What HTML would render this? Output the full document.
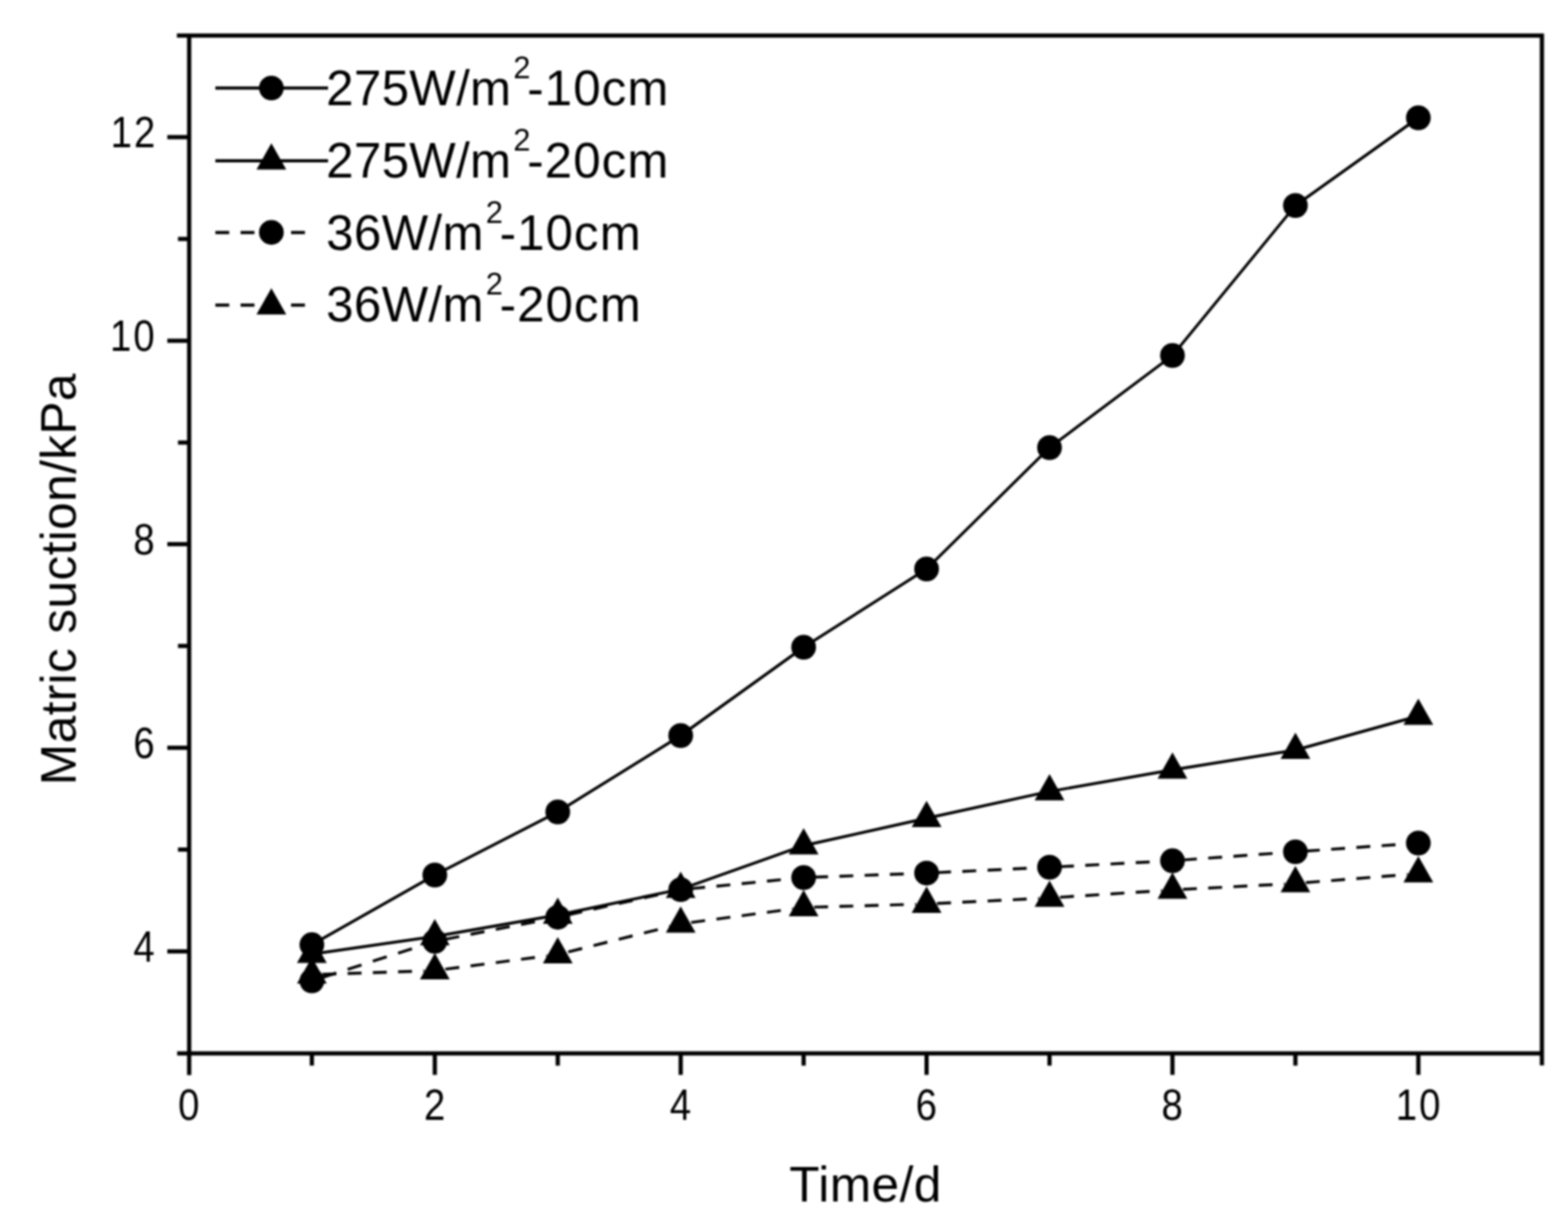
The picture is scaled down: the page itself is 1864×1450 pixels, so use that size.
<!DOCTYPE html>
<html lang="en"><head><meta charset="utf-8"><title>Matric suction vs time</title>
<style>html,body{margin:0;padding:0;background:#fff}body{width:1864px;height:1450px;overflow:hidden}svg{display:block;filter:blur(0.8px)}</style>
</head><body>
<svg width="1864" height="1450" viewBox="0 0 1864 1450">
<rect width="1864" height="1450" fill="#fff"/>
<g id="axes" stroke="#000" fill="none" stroke-linecap="butt">
<path d="M210.3 42.2H1835.5M210.6 1252.1H1835.5M224.9 39.7V1277.7M1833.0 39.7V1266.3" stroke-width="5.0"/>
<path d="M370.75 1252.1V1266.6M516.90 1252.1V1277.6M663.05 1252.1V1266.6M809.20 1252.1V1277.6M955.35 1252.1V1266.6M1101.50 1252.1V1277.6M1247.65 1252.1V1266.6M1393.80 1252.1V1277.6M1539.95 1252.1V1266.6M1686.10 1252.1V1277.6M224.9 1130.65H198.9M224.9 1009.70H211.6M224.9 888.75H198.9M224.9 767.80H211.6M224.9 646.85H198.9M224.9 525.90H211.6M224.9 404.95H198.9M224.9 284.00H211.6M224.9 163.05H198.9" stroke-width="5.0"/>
</g>
<g id="ticklabels" font-family="&quot;Liberation Sans&quot;, sans-serif" font-size="51.5" fill="#000">
<text transform="translate(183.9 1142.8) scale(0.885 1)" text-anchor="end">4</text>
<text transform="translate(183.9 900.9) scale(0.885 1)" text-anchor="end">6</text>
<text transform="translate(183.9 659.0) scale(0.885 1)" text-anchor="end">8</text>
<text transform="translate(186.1 417.1) scale(0.885 1)" text-anchor="end" letter-spacing="2.6">10</text>
<text transform="translate(186.9 175.2) scale(0.885 1)" text-anchor="end" letter-spacing="2.6">12</text>
<text transform="translate(224.3 1330.6) scale(0.885 1)" text-anchor="middle">0</text>
<text transform="translate(516.6 1330.6) scale(0.885 1)" text-anchor="middle">2</text>
<text transform="translate(808.9 1330.6) scale(0.885 1)" text-anchor="middle">4</text>
<text transform="translate(1101.2 1330.6) scale(0.885 1)" text-anchor="middle">6</text>
<text transform="translate(1393.5 1330.6) scale(0.885 1)" text-anchor="middle">8</text>
<text transform="translate(1687.0 1330.6) scale(0.885 1)" text-anchor="middle" letter-spacing="2.6">10</text>
</g>
<g id="titles" font-family="&quot;Liberation Sans&quot;, sans-serif" font-size="60" fill="#000">
<text transform="translate(1029 1427.8) scale(0.983 1)" text-anchor="middle" letter-spacing="0.55">Time/d</text>
<text transform="translate(89.6 688.3) rotate(-90) scale(0.983 1)" text-anchor="middle" letter-spacing="0.45">Matric suction/kPa</text>
</g>
<g id="series1" fill="#000"><polyline fill="none" stroke="#000" stroke-width="3.4" points="370.75,1122.80 516.90,1040.00 663.05,965.00 809.20,874.25 955.35,769.25 1101.50,676.25 1247.65,532.00 1393.80,422.50 1539.95,244.25 1686.10,140.00"/><circle cx="370.75" cy="1122.80" r="14.7"/><circle cx="516.90" cy="1040.00" r="14.7"/><circle cx="663.05" cy="965.00" r="14.7"/><circle cx="809.20" cy="874.25" r="14.7"/><circle cx="955.35" cy="769.25" r="14.7"/><circle cx="1101.50" cy="676.25" r="14.7"/><circle cx="1247.65" cy="532.00" r="14.7"/><circle cx="1393.80" cy="422.50" r="14.7"/><circle cx="1539.95" cy="244.25" r="14.7"/><circle cx="1686.10" cy="140.00" r="14.7"/></g>
<g id="series2" fill="#000"><polyline fill="none" stroke="#000" stroke-width="3.4" points="370.75,1134.00 516.90,1113.00 663.05,1087.50 809.20,1056.80 955.35,1005.00 1101.50,972.50 1247.65,940.70 1393.80,915.00 1539.95,891.50 1686.10,851.00"/><path d="M370.75 1113.20L388.45 1144.50H353.05Z"/><path d="M516.90 1092.20L534.60 1123.50H499.20Z"/><path d="M663.05 1066.70L680.75 1098.00H645.35Z"/><path d="M809.20 1036.00L826.90 1067.30H791.50Z"/><path d="M955.35 984.20L973.05 1015.50H937.65Z"/><path d="M1101.50 951.70L1119.20 983.00H1083.80Z"/><path d="M1247.65 919.90L1265.35 951.20H1229.95Z"/><path d="M1393.80 894.20L1411.50 925.50H1376.10Z"/><path d="M1539.95 870.70L1557.65 902.00H1522.25Z"/><path d="M1686.10 830.20L1703.80 861.50H1668.40Z"/></g>
<g id="series3" fill="#000"><line x1="370.75" y1="1165.80" x2="504.40" y2="1122.82" stroke="#000" stroke-width="3.4" stroke-dasharray="17.33 14.18" stroke-dashoffset="-13.13"/><line x1="516.90" y1="1118.80" x2="650.55" y2="1092.65" stroke="#000" stroke-width="3.4" stroke-dasharray="16.81 13.76" stroke-dashoffset="-12.74"/><line x1="663.05" y1="1090.20" x2="796.70" y2="1060.21" stroke="#000" stroke-width="3.4" stroke-dasharray="16.91 13.84" stroke-dashoffset="-12.81"/><line x1="809.20" y1="1057.40" x2="942.85" y2="1044.23" stroke="#000" stroke-width="3.4" stroke-dasharray="16.58 13.57" stroke-dashoffset="-12.56"/><line x1="955.35" y1="1043.00" x2="1089.00" y2="1038.15" stroke="#000" stroke-width="3.4" stroke-dasharray="16.51 13.51" stroke-dashoffset="-12.51"/><line x1="1101.50" y1="1037.70" x2="1235.15" y2="1031.34" stroke="#000" stroke-width="3.4" stroke-dasharray="16.52 13.52" stroke-dashoffset="-12.51"/><line x1="1247.65" y1="1030.75" x2="1381.30" y2="1023.66" stroke="#000" stroke-width="3.4" stroke-dasharray="16.52 13.52" stroke-dashoffset="-12.52"/><line x1="1393.80" y1="1023.00" x2="1527.45" y2="1013.31" stroke="#000" stroke-width="3.4" stroke-dasharray="16.54 13.54" stroke-dashoffset="-12.53"/><line x1="1539.95" y1="1012.40" x2="1673.60" y2="1002.89" stroke="#000" stroke-width="3.4" stroke-dasharray="16.54 13.53" stroke-dashoffset="-12.53"/><circle cx="370.75" cy="1165.80" r="14.7"/><circle cx="516.90" cy="1118.80" r="14.7"/><circle cx="663.05" cy="1090.20" r="14.7"/><circle cx="809.20" cy="1057.40" r="14.7"/><circle cx="955.35" cy="1043.00" r="14.7"/><circle cx="1101.50" cy="1037.70" r="14.7"/><circle cx="1247.65" cy="1030.75" r="14.7"/><circle cx="1393.80" cy="1023.00" r="14.7"/><circle cx="1539.95" cy="1012.40" r="14.7"/><circle cx="1686.10" cy="1002.00" r="14.7"/></g>
<g id="series4" fill="#000"><line x1="370.75" y1="1158.50" x2="504.40" y2="1153.93" stroke="#000" stroke-width="3.4" stroke-dasharray="16.51 13.51" stroke-dashoffset="-12.51"/><line x1="516.90" y1="1153.50" x2="650.55" y2="1136.13" stroke="#000" stroke-width="3.4" stroke-dasharray="16.64 13.61" stroke-dashoffset="-12.61"/><line x1="663.05" y1="1134.50" x2="796.70" y2="1101.12" stroke="#000" stroke-width="3.4" stroke-dasharray="17.01 13.91" stroke-dashoffset="-12.88"/><line x1="809.20" y1="1098.00" x2="942.85" y2="1080.17" stroke="#000" stroke-width="3.4" stroke-dasharray="16.65 13.62" stroke-dashoffset="-12.61"/><line x1="955.35" y1="1078.50" x2="1089.00" y2="1074.75" stroke="#000" stroke-width="3.4" stroke-dasharray="16.51 13.51" stroke-dashoffset="-12.50"/><line x1="1101.50" y1="1074.40" x2="1235.15" y2="1067.82" stroke="#000" stroke-width="3.4" stroke-dasharray="16.52 13.52" stroke-dashoffset="-12.52"/><line x1="1247.65" y1="1067.20" x2="1381.30" y2="1058.51" stroke="#000" stroke-width="3.4" stroke-dasharray="16.53 13.53" stroke-dashoffset="-12.53"/><line x1="1393.80" y1="1057.70" x2="1527.45" y2="1050.66" stroke="#000" stroke-width="3.4" stroke-dasharray="16.52 13.52" stroke-dashoffset="-12.52"/><line x1="1539.95" y1="1050.00" x2="1673.60" y2="1039.30" stroke="#000" stroke-width="3.4" stroke-dasharray="16.55 13.54" stroke-dashoffset="-12.54"/><path d="M370.75 1137.70L388.45 1169.00H353.05Z"/><path d="M516.90 1132.70L534.60 1164.00H499.20Z"/><path d="M663.05 1113.70L680.75 1145.00H645.35Z"/><path d="M809.20 1077.20L826.90 1108.50H791.50Z"/><path d="M955.35 1057.70L973.05 1089.00H937.65Z"/><path d="M1101.50 1053.60L1119.20 1084.90H1083.80Z"/><path d="M1247.65 1046.40L1265.35 1077.70H1229.95Z"/><path d="M1393.80 1036.90L1411.50 1068.20H1376.10Z"/><path d="M1539.95 1029.20L1557.65 1060.50H1522.25Z"/><path d="M1686.10 1017.50L1703.80 1048.80H1668.40Z"/></g>
<g id="legend" font-family="&quot;Liberation Sans&quot;, sans-serif" font-size="58.5" fill="#000">
<line x1="256" y1="104.6" x2="390" y2="104.6" stroke="#000" stroke-width="3.8"/>
<circle cx="322.6" cy="104.6" r="14.7" fill="#000"/>
<text x="387.8" y="125.0" letter-spacing="0.4">275W/m<tspan dx="2.3" dy="-32" font-size="36.5">2</tspan><tspan dx="-4.2" dy="32" letter-spacing="1.3">-10cm</tspan></text>
<line x1="256" y1="191.1" x2="390" y2="191.1" stroke="#000" stroke-width="3.8"/>
<path d="M322.6 170.30L340.30 201.60H304.90Z" fill="#000"/>
<text x="387.8" y="210.8" letter-spacing="0.4">275W/m<tspan dx="2.3" dy="-32" font-size="36.5">2</tspan><tspan dx="-4.2" dy="32" letter-spacing="1.3">-20cm</tspan></text>
<path d="M256 276.4h16.5m13.5 0h16.5M346 276.4h16.5" stroke="#000" stroke-width="3.8" fill="none"/>
<circle cx="322.6" cy="276.2" r="14.7" fill="#000"/>
<text x="387.8" y="296.9" letter-spacing="0.4">36W/m<tspan dx="2.3" dy="-32" font-size="36.5">2</tspan><tspan dx="-4.2" dy="32" letter-spacing="1.3">-10cm</tspan></text>
<path d="M256 362.7h16.5m13.5 0h16.5M346 362.7h16.5" stroke="#000" stroke-width="3.8" fill="none"/>
<path d="M322.6 342.50L340.30 373.80H304.90Z" fill="#000"/>
<text x="387.8" y="382.4" letter-spacing="0.4">36W/m<tspan dx="2.3" dy="-32" font-size="36.5">2</tspan><tspan dx="-4.2" dy="32" letter-spacing="1.3">-20cm</tspan></text>
</g>
</svg>
</body></html>
